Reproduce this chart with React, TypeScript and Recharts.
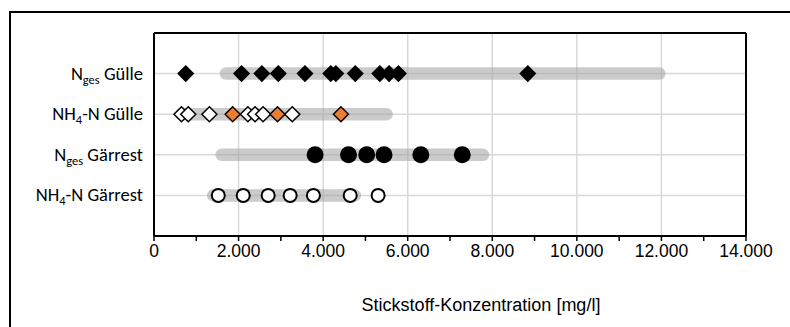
import React from 'react'
import {
  ScatterChart,
  Scatter,
  XAxis,
  YAxis,
  CartesianGrid,
  ReferenceLine,
} from 'recharts'

// row labels (top to bottom) and their y positions on the 0..5 value axis
const rowKeys = ['ngesGuelle', 'nh4Guelle', 'ngesGaerrest', 'nh4Gaerrest']
const rowPositions = [4, 3, 2, 1]

// x axis: ticks every 1.000, labels + gridlines every 2.000
const xTicks = [0, 1000, 2000, 3000, 4000, 5000, 6000, 7000, 8000, 9000, 10000, 11000, 12000, 13000, 14000]
const xGrid = [2000, 4000, 6000, 8000, 10000, 12000]
const xMax = 14000
const yMax = 5

// measured values [mg/l]
const ngesGuelle = [750, 2070, 2550, 2940, 3570, 4180, 4300, 4760, 5340, 5560, 5780, 8840]
const nh4GuelleWhite = [650, 810, 1310, 2220, 2390, 2580, 3270]
const nh4GuelleOrange = [1860, 2920, 4420]
const ngesGaerrest = [3810, 4600, 5030, 5440, 6310, 7290]
const nh4Gaerrest = [1520, 2110, 2700, 3220, 3770, 4640, 5300]

// literature ranges (grey bars) [min, max]
const rangeNgesGuelle = [1700, 11950]
const rangeNh4Guelle = [650, 5500]
const rangeNgesGaerrest = [1600, 7780]
const rangeNh4Gaerrest = [1400, 4750]

const ranges = [rangeNgesGuelle, rangeNh4Guelle, rangeNgesGaerrest, rangeNh4Gaerrest]

const toPoints = (values: number[], row: number) => values.map(x => ({ x, y: row }))

const fmtThousands = (v: number) =>
  v === 0 ? '0' : `${Math.floor(v / 1000)}.${String(v % 1000).padStart(3, '0')}`

const Diamond = (fill: string) => (props: any) => {
  const { cx, cy } = props
  const r = 7.5
  return (
    <polygon
      points={`${cx},${cy - r} ${cx + r},${cy} ${cx},${cy + r} ${cx - r},${cy}`}
      fill={fill}
      stroke="#000"
      strokeWidth={1.5}
    />
  )
}

const Dot = (fill: string, r: number) => (props: any) => {
  const { cx, cy } = props
  return <circle cx={cx} cy={cy} r={r} fill={fill} stroke="#000" strokeWidth={2} />
}

const noShape = () => <g />

// y labels with subscripts
const RowLabel = (props: any) => {
  const { x, y, payload } = props
  const idx = rowPositions.indexOf(payload.value)
  const key = rowKeys[idx]
  const common = { fontFamily: 'Calibri, Carlito, Lato, sans-serif', fontSize: 18.5, fill: '#000' }
  const sub = { fontSize: 12.5 }
  let content: React.ReactNode = null
  if (key === 'ngesGuelle' || key === 'ngesGaerrest') {
    content = (
      <>
        <tspan>N</tspan>
        <tspan {...sub} dy={4}>ges</tspan>
        <tspan dy={-4}>{key === 'ngesGuelle' ? ' Gülle' : ' Gärrest'}</tspan>
      </>
    )
  } else if (key) {
    content = (
      <>
        <tspan>NH</tspan>
        <tspan {...sub} dy={4}>4</tspan>
        <tspan dy={-4}>{key === 'nh4Guelle' ? '-N Gülle' : '-N Gärrest'}</tspan>
      </>
    )
  }
  return (
    <text x={x} y={y} dy={6} textAnchor="end" {...common}>
      {content}
    </text>
  )
}

const XTick = (props: any) => {
  const { x, y, payload } = props
  if (payload.value % 2000 !== 0) return <g />
  return (
    <text x={x} y={y} dy={14} textAnchor="middle" fontFamily="'Liberation Sans', Arial, sans-serif" fontSize={17.5} fill="#000">
      {fmtThousands(payload.value)}
    </text>
  )
}

const rangeLine = {
  stroke: '#a0a0a0',
  strokeWidth: 12.5,
  strokeLinecap: 'round' as const,
  strokeOpacity: 0.55,
}

export default function App() {
  return (
    <div style={{ position: 'absolute', left: 0, top: 0, width: 790, height: 327, overflow: 'hidden', background: '#fff' }}>
      <div
        style={{
          position: 'absolute',
          left: 9,
          top: 11,
          width: 900,
          height: 500,
          border: '2px solid #000',
        }}
      />
      <div style={{ position: 'absolute', left: 0, top: 0 }}>
        <ScatterChart width={790} height={327} margin={{ top: 33, right: 44, bottom: 0, left: 0 }}>
          <CartesianGrid
            stroke="#d9d9d9"
            strokeWidth={1.5}
            verticalValues={xGrid}
            horizontalValues={rowPositions}
          />
          <XAxis
            type="number"
            dataKey="x"
            domain={[0, xMax]}
            ticks={xTicks}
            interval={0}
            height={91}
            axisLine={{ stroke: '#000', strokeWidth: 2 }}
            tickLine={{ stroke: '#000', strokeWidth: 1.5 }}
            tickSize={5}
            tick={<XTick />}
            allowDataOverflow
            label={{
              value: 'Stickstoff-Konzentration [mg/l]',
              position: 'insideBottom',
              offset: 16,
              dx: 31,
              style: { fontFamily: "'Liberation Sans', Arial, sans-serif", fontSize: 18, fill: '#000' },
            }}
          />
          <YAxis
            type="number"
            dataKey="y"
            domain={[0, yMax]}
            ticks={rowPositions}
            interval={0}
            width={154}
            axisLine={{ stroke: '#000', strokeWidth: 2 }}
            tickLine={false}
            tickSize={0}
            tickMargin={11}
            tick={<RowLabel />}
            allowDataOverflow
          />

          {/* plot area frame: top and right edges */}
          <ReferenceLine y={yMax} stroke="#000" strokeWidth={2} ifOverflow="extendDomain" />
          <ReferenceLine x={xMax} stroke="#000" strokeWidth={2} ifOverflow="extendDomain" />

          {ranges.map((rg, i) => (
            <Scatter
              key={`range-${i}`}
              data={toPoints(rg, rowPositions[i])}
              line={rangeLine}
              shape={noShape}
              fill="none"
              isAnimationActive={false}
            />
          ))}

          <Scatter data={toPoints(ngesGuelle, rowPositions[0])} shape={Diamond('#000')} isAnimationActive={false} />
          <Scatter data={toPoints(nh4GuelleWhite, rowPositions[1])} shape={Diamond('#fff')} isAnimationActive={false} />
          <Scatter data={toPoints(nh4GuelleOrange, rowPositions[1])} shape={Diamond('#ed7d31')} isAnimationActive={false} />
          <Scatter data={toPoints(ngesGaerrest, rowPositions[2])} shape={Dot('#000', 7.5)} isAnimationActive={false} />
          <Scatter data={toPoints(nh4Gaerrest, rowPositions[3])} shape={Dot('#fff', 6.5)} isAnimationActive={false} />
        </ScatterChart>
      </div>
    </div>
  )
}
